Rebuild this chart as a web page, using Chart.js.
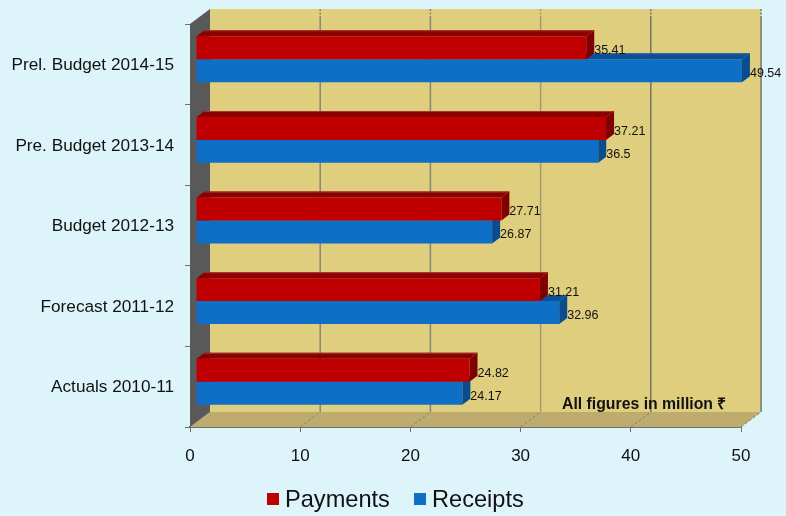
<!DOCTYPE html>
<html>
<head>
<meta charset="utf-8">
<style>
  html, body { margin: 0; padding: 0; background: #ddf5fa; }
  #wrap { position: relative; width: 786px; height: 516px; }
</style>
<script src="https://cdn.jsdelivr.net/npm/chart.js@4"></script>
</head>
<body>
<div id="wrap"><canvas id="budgetChart" width="786" height="516"></canvas></div>
<script>
const categories = ['Prel. Budget 2014-15', 'Pre. Budget 2013-14', 'Budget 2012-13', 'Forecast 2011-12', 'Actuals 2010-11'];
const payments = [35.41, 37.21, 27.71, 31.21, 24.82];
const receipts = [49.54, 36.5, 26.87, 32.96, 24.17];
const xTicks = [0, 10, 20, 30, 40, 50];
const note = 'All figures in million \u20B9';

const FONT = '"Liberation Sans", Arial, sans-serif';

// fake 3d box: walls sit behind the axes, bars are pushed a little way in
const wallDepth = { x: 20, y: 15 };
const barShift = { x: 6, y: -5 };
const barDepth = { x: 8, y: -6 };

const gridColors = ['#8f8f80', '#85857a', '#85857a', '#a39a70', '#74746c', '#8f8f80'];

const seriesStyle = [
    { label: 'Payments', values: payments, front: '#c00000', top: '#8b0000', edge: '#a8352c', side: '#7f0000' },
    { label: 'Receipts', values: receipts, front: '#0e6fc6', top: '#0b5096', edge: '#2a6aa5', side: '#0b4c8e' }
];

function poly(ctx, pts, fill) {
    ctx.beginPath();
    pts.forEach((p, i) => i ? ctx.lineTo(p[0], p[1]) : ctx.moveTo(p[0], p[1]));
    ctx.closePath();
    ctx.fillStyle = fill;
    ctx.fill();
}

const box3d = {
    id: 'box3d',
    beforeDatasetsDraw(chart) {
        const { ctx, chartArea: a, scales } = chart;
        const dx = wallDepth.x, dy = wallDepth.y;
        ctx.save();
        // back wall
        ctx.fillStyle = '#dfce7e';
        ctx.fillRect(a.left + dx, a.top - dy, a.right - a.left, a.bottom - a.top);
        // floor
        poly(ctx, [[a.left, a.bottom], [a.left + dx, a.bottom - dy], [a.right + dx, a.bottom - dy], [a.right, a.bottom]], '#bdac6e');
        // left wall
        poly(ctx, [[a.left, a.top], [a.left + dx, a.top - dy], [a.left + dx, a.bottom - dy], [a.left, a.bottom]], '#595959');
        // gridlines up the wall and across the floor
        xTicks.forEach((v, i) => {
            const x = scales.x.getPixelForValue(v);
            if (i === 0) return;
            ctx.strokeStyle = gridColors[i];
            ctx.lineWidth = i === xTicks.length - 1 ? 2 : 1.5;
            // the top of each line is broken up a bit in the original
            ctx.setLineDash([2, 1.5]);
            ctx.beginPath();
            ctx.moveTo(x + dx, a.top - dy);
            ctx.lineTo(x + dx, a.top - dy + 8);
            ctx.stroke();
            ctx.setLineDash([]);
            ctx.beginPath();
            ctx.moveTo(x + dx, a.top - dy + 8);
            ctx.lineTo(x + dx, a.bottom - dy);
            ctx.stroke();
            ctx.lineWidth = 1;
            ctx.strokeStyle = '#8a8468';
            ctx.setLineDash([3, 2]);
            ctx.beginPath();
            ctx.moveTo(x, a.bottom);
            ctx.lineTo(x + dx, a.bottom - dy);
            ctx.stroke();
            ctx.setLineDash([]);
        });
        ctx.restore();
    },
    beforeDatasetDraw(chart) {
        chart.ctx.save();
        chart.ctx.translate(barShift.x, barShift.y);
    },
    afterDatasetDraw(chart, args) {
        const { ctx } = chart;
        const style = seriesStyle[args.index];
        args.meta.data.forEach((bar) => {
            const { x, y, base, height } = bar.getProps(['x', 'y', 'base', 'height'], true);
            const t = y - height / 2, b = y + height / 2;
            const dx = barDepth.x, dy = barDepth.y;
            poly(ctx, [[base, t], [base + dx, t + dy], [x + dx, t + dy], [x, t]], style.top);
            poly(ctx, [[base + dx, t + dy], [x + dx, t + dy], [x + dx, t + dy + 1], [base + dx, t + dy + 1]], style.edge);
            poly(ctx, [[x, t], [x + dx, t + dy], [x + dx, b + dy], [x, b]], style.side);
        });
        ctx.restore();
    },
    afterDatasetsDraw(chart) {
        const { ctx } = chart;
        ctx.save();
        ctx.fillStyle = '#111';
        ctx.font = '12.5px ' + FONT;
        ctx.textBaseline = 'middle';
        ctx.textAlign = 'left';
        seriesStyle.forEach((s, i) => {
            chart.getDatasetMeta(i).data.forEach((bar, j) => {
                const px = bar.x + barShift.x + barDepth.x;
                ctx.fillText(String(s.values[j]), px, bar.y + barShift.y + 3);
            });
        });
        ctx.fillStyle = '#111';
        ctx.font = 'bold 15.8px ' + FONT;
        ctx.fillText(note, 562, 405);
        // legend
        let lx = 267;
        ctx.font = '23.6px ' + FONT;
        seriesStyle.forEach((s) => {
            ctx.fillStyle = s.front;
            ctx.fillRect(lx, 493, 12, 12);
            ctx.fillStyle = '#111';
            ctx.fillText(s.label, lx + 18, 500);
            lx += 147;
        });
        ctx.restore();
    }
};

new Chart(document.getElementById('budgetChart'), {
    type: 'bar',
    data: {
        labels: categories,
        datasets: seriesStyle.map((s) => ({
            label: s.label,
            data: s.values,
            backgroundColor: s.front,
            borderWidth: 0,
            categoryPercentage: 0.57,
            barPercentage: 1,
            clip: false
        }))
    },
    options: {
        indexAxis: 'y',
        responsive: false,
        animation: false,
        layout: { padding: { top: 24, right: 45, left: 0, bottom: 0 } },
        plugins: { legend: { display: false }, tooltip: { enabled: false } },
        scales: {
            x: {
                min: 0,
                max: 50,
                afterBuildTicks(s) { s.ticks = xTicks.map((v) => ({ value: v })); },
                afterFit(s) { s.height = 89; },
                border: { color: '#6f6f6f', width: 2 },
                grid: { drawOnChartArea: false, tickColor: '#6f6f6f', tickLength: 5 },
                ticks: { color: '#111', padding: 14, font: { family: FONT, size: 17 } }
            },
            y: {
                afterFit(s) { s.width = 190; },
                border: { color: '#6f6f6f', width: 1 },
                grid: { offset: true, drawOnChartArea: false, tickColor: '#6f6f6f', tickLength: 5 },
                ticks: { color: '#111', padding: 11, labelOffset: 1, font: { family: FONT, size: 17.2 } }
            }
        }
    },
    plugins: [box3d]
});
</script>
</body>
</html>
